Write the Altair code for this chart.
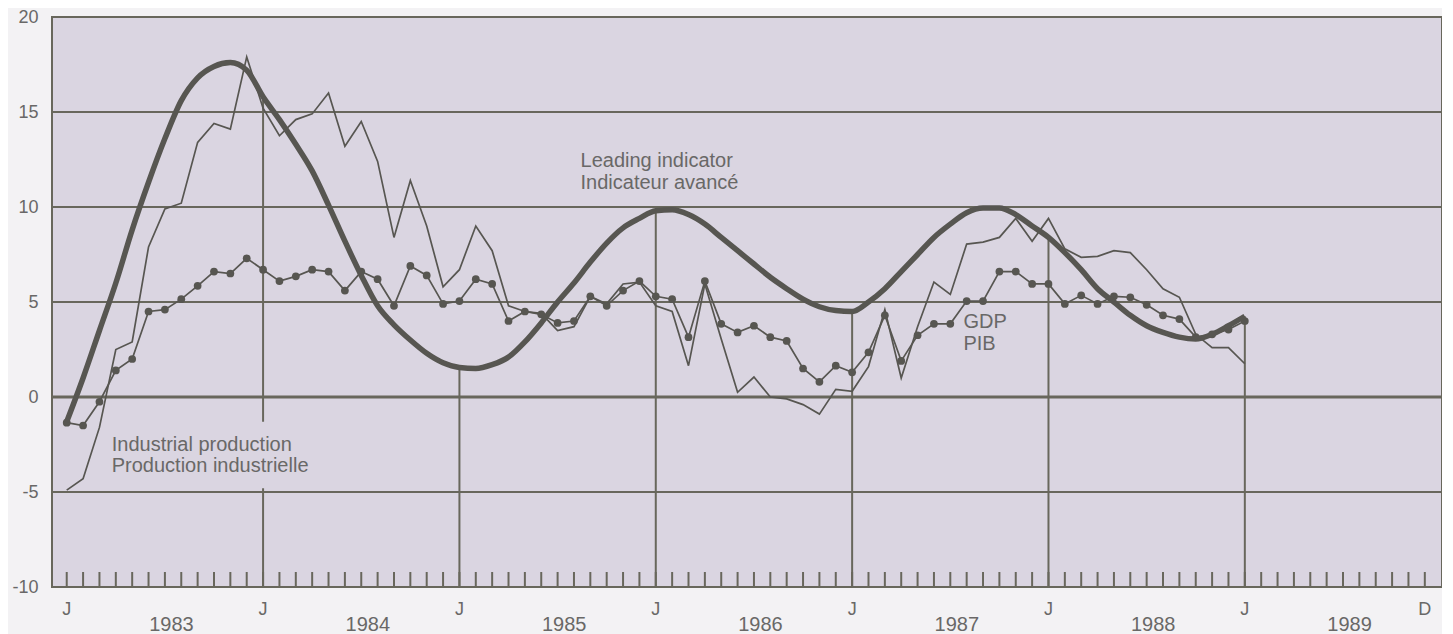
import altair as alt
import pandas as pd

# ---------------- data (monthly, index 0 = Jan 1983) ----------------
YEARS = [1983, 1984, 1985, 1986, 1987, 1988, 1989]

LEADING = [-1.3, 1.0, 3.5, 6.0, 8.8, 11.3, 13.6, 15.6, 16.8, 17.4, 17.6, 17.2,
           15.8, 14.6, 13.3, 11.9, 10.1, 8.2, 6.4, 4.8, 3.8, 3.0, 2.3, 1.8,
           1.55, 1.5, 1.7, 2.1, 2.9, 3.9, 5.0, 6.0, 7.1, 8.1, 8.9, 9.4,
           9.8, 9.85, 9.6, 9.1, 8.4, 7.7, 7.0, 6.3, 5.7, 5.15, 4.75, 4.55,
           4.5, 5.0, 5.7, 6.6, 7.5, 8.4, 9.1, 9.7, 9.95, 9.95, 9.6, 9.0,
           8.4, 7.6, 6.7, 5.7, 5.0, 4.3, 3.75, 3.4, 3.15, 3.05, 3.3, 3.75,
           4.25]

GDP = [-1.35, -1.5, -0.25, 1.4, 2.0, 4.5, 4.6, 5.15, 5.85, 6.6, 6.5, 7.3,
       6.7, 6.1, 6.35, 6.7, 6.6, 5.6, 6.6, 6.2, 4.8, 6.9, 6.4, 4.9,
       5.05, 6.2, 5.95, 4.0, 4.5, 4.35, 3.9, 4.0, 5.3, 4.8, 5.6, 6.1,
       5.3, 5.15, 3.15, 6.1, 3.85, 3.4, 3.75, 3.15, 2.95, 1.5, 0.8, 1.65,
       1.3, 2.35, 4.3, 1.9, 3.25, 3.85, 3.85, 5.05, 5.05, 6.6, 6.6, 5.95,
       5.95, 4.9, 5.35, 4.9, 5.3, 5.25, 4.85, 4.3, 4.1, 3.15, 3.3, 3.55,
       4.0]

IND_PROD = [-4.9, -4.3, -1.6, 2.5, 2.9, 7.9, 9.9, 10.2, 13.4, 14.4, 14.1, 17.9,
            15.2, 13.75, 14.6, 14.9, 16.0, 13.2, 14.5, 12.4, 8.4, 11.4, 9.0, 5.8,
            6.7, 9.0, 7.7, 4.8, 4.5, 4.4, 3.5, 3.7, 5.3, 4.9, 5.95, 6.05,
            4.8, 4.5, 1.65, 5.95, 3.05, 0.25, 1.05, 0.0, -0.1, -0.4, -0.9, 0.4,
            0.3, 1.6, 4.6, 1.0, 3.7, 6.05, 5.4, 8.05, 8.15, 8.4, 9.4, 8.2,
            9.4, 7.8, 7.35, 7.4, 7.7, 7.6, 6.7, 5.7, 5.25, 3.3, 2.6, 2.6,
            1.75]

Y_TICKS = [-10, -5, 0, 5, 10, 15, 20]
GRID_LEVELS = [-5, 0, 5, 10, 15]
GRID_WIDTHS = [2, 3, 2, 2, 2]

# series labels: text lines, anchor month, anchor value of the first line
LABEL_LINES = [["Leading indicator", "Indicateur avancé"],
               ["GDP", "PIB"],
               ["Industrial production", "Production industrielle"]]
LABEL_MONTH = [31.4, 54.8, 2.75]
LABEL_VALUE = [12.4, 3.95, -2.5]
LINE_STEP = 1.15  # value units between the two lines of a label

# ---------------- styling ----------------
PLOT_BG = "#dad5e1"
PAGE_BG = "#f3f2f4"
INK = "#575651"
GRID_C = "#68675c"
TEXT_C = "#696867"
FONT = "Liberation Sans"

N_MONTHS_AXIS = 84
xs = alt.Scale(domain=[-0.9, 84.05], nice=False, zero=False)
ys = alt.Scale(domain=[-10, 20], nice=False, zero=False)
Y_AX = alt.Axis(values=Y_TICKS, title=None, grid=False, ticks=False,
                domain=False, labelFont=FONT, labelFontSize=18,
                labelColor=TEXT_C, labelPadding=14,
                labelExpr="'' + datum.value")

months = list(range(len(LEADING)))
df = pd.DataFrame({"m": months, "leading": LEADING, "gdp": GDP, "ip": IND_PROD})


def X(field):
    return alt.X(field, scale=xs, axis=None)


def Y(field):
    return alt.Y(field, scale=ys, axis=Y_AX)


# horizontal grid lines
grid_df = pd.DataFrame({"v": GRID_LEVELS, "w": GRID_WIDTHS})
grid = alt.Chart(grid_df).mark_rule(color=GRID_C).encode(
    y=Y("v:Q"),
    strokeWidth=alt.StrokeWidth("w:Q", scale=None, legend=None),
)

# January drop lines down from the leading indicator
jan_df = df[(df["m"] % 12 == 0) & (df["m"] > 0)].copy()
jan_df["floor"] = -10
drops = alt.Chart(jan_df).mark_rule(color=GRID_C, strokeWidth=2).encode(
    x=X("m:Q"), y=Y("floor:Q"), y2="leading:Q",
)

# monthly ticks along the bottom
tick_df = pd.DataFrame({"m": list(range(N_MONTHS_AXIS))})
ticks = alt.Chart(tick_df).mark_rule(color=GRID_C, strokeWidth=2).encode(
    x=X("m:Q"), y=alt.value(570), y2=alt.value(555),
)

# label table
rows = []
for lines, m0, v0 in zip(LABEL_LINES, LABEL_MONTH, LABEL_VALUE):
    for i, t in enumerate(lines):
        rows.append({"m": m0, "v": v0 - i * LINE_STEP, "t": t})
lab_df = pd.DataFrame(rows)

# mask behind the industrial-production label (interrupts the drop line)
ip_m, ip_v = LABEL_MONTH[2], LABEL_VALUE[2]
mask_df = pd.DataFrame({"m1": [ip_m - 0.3], "m2": [ip_m + 13.0],
                        "v1": [ip_v + 1.2], "v2": [ip_v - LINE_STEP - 1.15]})
mask = alt.Chart(mask_df).mark_rect(color=PLOT_BG).encode(
    x=X("m1:Q"), x2="m2:Q", y=Y("v1:Q"), y2="v2:Q",
)

ip_line = alt.Chart(df).mark_line(color=INK, strokeWidth=1.7).encode(
    x=X("m:Q"), y=Y("ip:Q"),
)
gdp_line = alt.Chart(df).mark_line(
    color=INK, strokeWidth=1.7,
    point=alt.OverlayMarkDef(filled=True, size=60, color=INK),
).encode(x=X("m:Q"), y=Y("gdp:Q"))
lead_line = alt.Chart(df).mark_line(color=INK, strokeWidth=5.5,
                                    interpolate="monotone").encode(
    x=X("m:Q"), y=Y("leading:Q"),
)

labels = alt.Chart(lab_df).mark_text(align="left", baseline="middle", font=FONT,
                                     fontSize=20, color=TEXT_C).encode(
    x=X("m:Q"), y=Y("v:Q"), text="t:N",
)

# x axis labels: J at each January, D at December 1989, years centred
xl_rows = [{"m": 12 * i, "t": "J"} for i in range(len(YEARS))]
xl_rows.append({"m": 12 * len(YEARS) - 1, "t": "D"})
xl_df = pd.DataFrame(xl_rows)
month_labels = alt.Chart(xl_df).mark_text(align="center", baseline="middle", font=FONT,
                                          fontSize=18, color=TEXT_C).encode(
    x=X("m:Q"), y=alt.value(593), text="t:N",
)
yr_df = pd.DataFrame({"m": [12 * i + 6.4 for i in range(len(YEARS))],
                      "t": [str(y) for y in YEARS]})
year_labels = alt.Chart(yr_df).mark_text(align="center", baseline="middle", font=FONT,
                                         fontSize=20, color=TEXT_C).encode(
    x=X("m:Q"), y=alt.value(608), text="t:N",
)

chart = alt.layer(
    grid, drops, ticks, mask, ip_line, gdp_line, lead_line, labels,
    month_labels, year_labels,
).properties(
    width=1390, height=570,
    autosize=alt.AutoSizeParams(type="none"),
    padding={"left": 44, "top": 9, "right": 0, "bottom": 47},
    background=PAGE_BG,
).configure_view(
    fill=PLOT_BG, stroke=GRID_C, strokeWidth=2,
)

chart.save("out.html", embed_options={"renderer": "svg", "actions": False})
